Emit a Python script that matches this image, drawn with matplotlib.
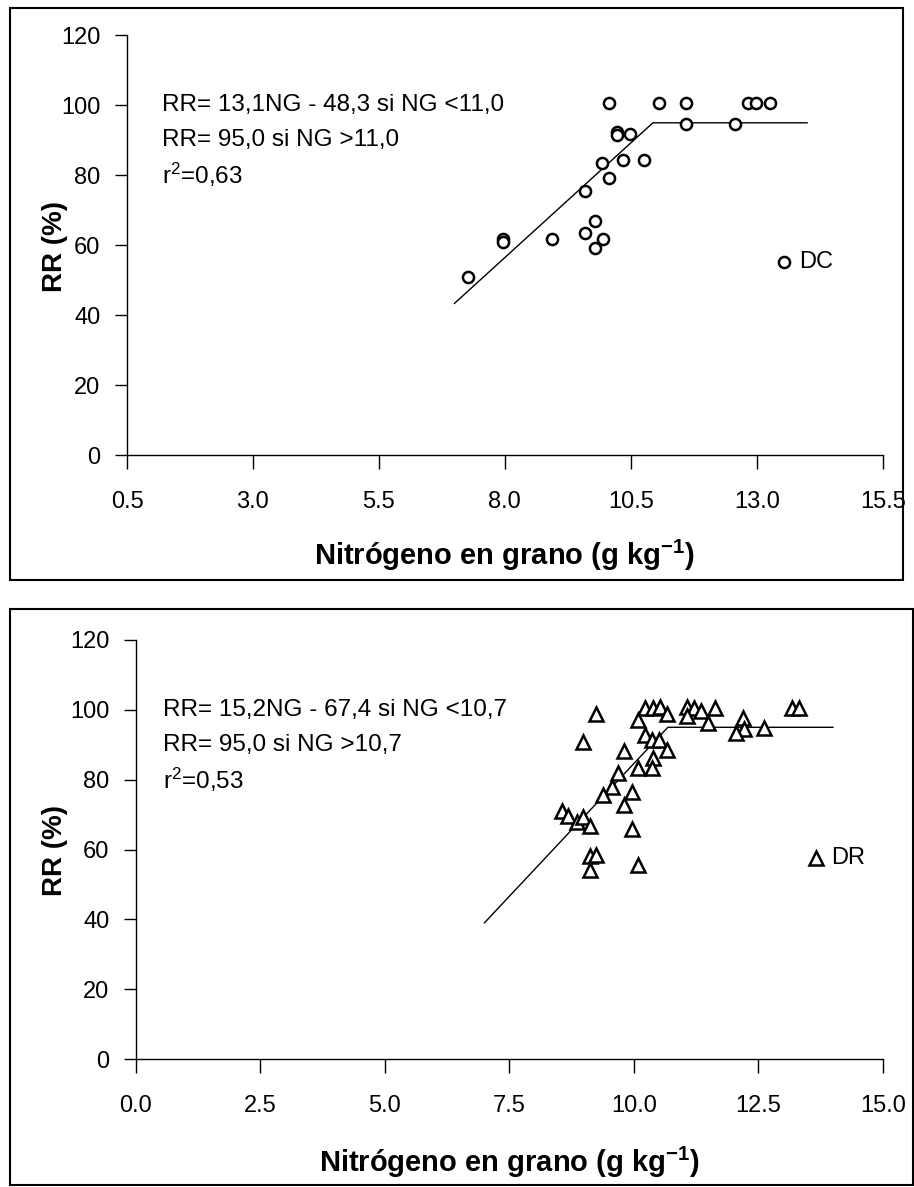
import matplotlib
matplotlib.use("Agg")
import matplotlib.pyplot as plt
from matplotlib.patches import Rectangle

plt.rcParams['font.family'] = ['Liberation Sans', 'DejaVu Sans']
plt.rcParams['mathtext.fontset'] = 'custom'
plt.rcParams['mathtext.rm'] = 'Liberation Sans'
plt.rcParams['mathtext.bf'] = 'Liberation Sans:bold'
plt.rcParams['mathtext.default'] = 'regular'

# ---- DC (circles) ----
dc_ng = [7.27, 7.97, 7.97, 8.93, 9.60, 9.79, 9.94, 9.79, 9.60, 9.93, 10.07, 10.35,
         10.22, 10.22, 10.48, 10.76, 10.07, 11.05, 11.60, 11.60, 12.57, 12.83, 12.98, 13.26]
dc_rr = [50.9, 61.8, 61.0, 61.8, 63.4, 66.9, 61.8, 59.3, 75.6, 83.6, 79.3, 84.4,
         92.5, 91.5, 91.7, 84.4, 100.6, 100.6, 100.6, 94.6, 94.6, 100.6, 100.6, 100.6]
dc_slope, dc_icpt, dc_plateau = 13.1, -48.3, 95.0
dc_fit_range = (7.0, 14.0)
dc_eq = ["RR= 13,1NG - 48,3 si NG <11,0", "RR= 95,0 si NG >11,0", "r$^2$=0,63"]

# ---- DR (triangles) ----
dr_ng = [9.25, 8.97, 9.81, 10.09, 10.22, 10.22, 10.39, 10.53, 10.66, 10.38, 10.09, 10.36,
         9.69, 9.56, 9.39, 9.96, 9.81, 8.55, 8.68, 8.85, 8.97, 9.12, 9.96, 9.12, 9.25,
         9.12, 10.09, 11.07, 11.20, 11.07, 11.34, 11.64, 11.50, 12.20, 12.21, 12.05,
         12.62, 13.17, 13.32, 10.36, 10.51, 10.66]
dr_rr = [98.9, 90.7, 88.3, 97.1, 92.8, 100.5, 100.5, 100.9, 98.9, 86.2, 83.3, 83.3,
         81.9, 78.0, 75.6, 76.6, 72.8, 70.9, 69.6, 68.0, 69.4, 66.6, 65.8, 58.0, 58.5,
         54.0, 55.6, 100.8, 100.5, 98.3, 99.8, 100.5, 96.2, 97.6, 94.5, 93.3,
         94.8, 100.5, 100.5, 91.4, 91.4, 88.5]
dr_slope, dr_icpt, dr_plateau = 15.2, -67.4, 95.0
dr_fit_range = (7.0, 14.0)
dr_eq = ["RR= 15,2NG - 67,4 si NG <10,7", "RR= 95,0 si NG >10,7", "r$^2$=0,53"]

top_xticks = [0.5, 3.0, 5.5, 8.0, 10.5, 13.0, 15.5]
bot_xticks = [0.0, 2.5, 5.0, 7.5, 10.0, 12.5, 15.0]
yticks = [0, 20, 40, 60, 80, 100, 120]

W, H = 914, 1187
fig = plt.figure(figsize=(W / 100, H / 100), dpi=100)


def frac_box(x0, y0, x1, y1):
    return [x0 / W, 1 - y1 / H, (x1 - x0) / W, (y1 - y0) / H]


# outer boxes around each panel
for (x0, y0, x1, y1) in [(10, 8, 903, 580), (10, 609, 913, 1185)]:
    b = frac_box(x0, y0, x1, y1)
    fig.add_artist(Rectangle((b[0], b[1]), b[2], b[3], transform=fig.transFigure,
                             fill=False, edgecolor='black', linewidth=1.5))


def panel(box, ng, rr, marker, ms, slope, icpt, plateau, fit_range, eq, eq_x,
          xticks, xlim, tag, tag_xy, xlabel_y, ylabel_y):
    ax = fig.add_axes(frac_box(*box))
    ax.plot(ng, rr, linestyle='none', marker=marker, markersize=ms,
            markerfacecolor='white', markeredgecolor='black', markeredgewidth=1.8,
            zorder=3)
    # linear-plateau fit
    brk = (plateau - icpt) / slope
    xs = [fit_range[0], brk, fit_range[1]]
    ys = [slope * fit_range[0] + icpt, plateau, plateau]
    ax.plot(xs, ys, color='black', linewidth=1.0, zorder=2)

    ax.set_xlim(*xlim)
    ax.set_ylim(0, 120)
    ax.set_xticks(xticks)
    ax.set_xticklabels([f"{t:.1f}" for t in xticks])
    ax.set_yticks(yticks)
    for s in ['top', 'right']:
        ax.spines[s].set_visible(False)
    for s in ['left', 'bottom']:
        ax.spines[s].set_linewidth(1.0)
    ax.tick_params(axis='y', direction='out', length=9, width=1.0, pad=10,
                   labelsize=17)
    ax.tick_params(axis='x', direction='out', length=10, width=1.0, pad=16,
                   labelsize=17)
    xc = (box[0] + box[2]) / 2
    fig.text(xc / W, 1 - xlabel_y / H,
             r"Nitrógeno en grano (g kg$^{\mathbf{-1}}$)", fontsize=21,
             fontweight='bold', ha='center', va='center')
    fig.text(55 / W, 1 - ylabel_y / H, "RR (%)", fontsize=20, fontweight='bold',
             rotation=90, ha='center', va='center')
    for t, yv in zip(eq, [100, 90, 80]):
        ax.text(eq_x, yv, t, fontsize=17.5, va='center', ha='left')
    ax.plot([tag_xy[0]], [tag_xy[1]], linestyle='none', marker=marker, markersize=ms,
            markerfacecolor='white', markeredgecolor='black', markeredgewidth=1.8)
    ax.text(tag_xy[0] + 0.3, tag_xy[1], tag, fontsize=17, va='center', ha='left')
    return ax


panel((127, 35.3, 882.7, 455.3), dc_ng, dc_rr, 'o', 8, dc_slope, dc_icpt, dc_plateau,
      dc_fit_range, dc_eq, 1.2, top_xticks, (0.5, 15.5), "DC", (13.54, 55.2),
      555, 246)
panel((136, 640, 882.7, 1059), dr_ng, dr_rr, '^', 10, dr_slope, dr_icpt, dr_plateau,
      dr_fit_range, dr_eq, 0.54, bot_xticks, (0.0, 15.0), "DR", (13.66, 57.6),
      1162, 850)

fig.savefig("out.png", dpi=100)
